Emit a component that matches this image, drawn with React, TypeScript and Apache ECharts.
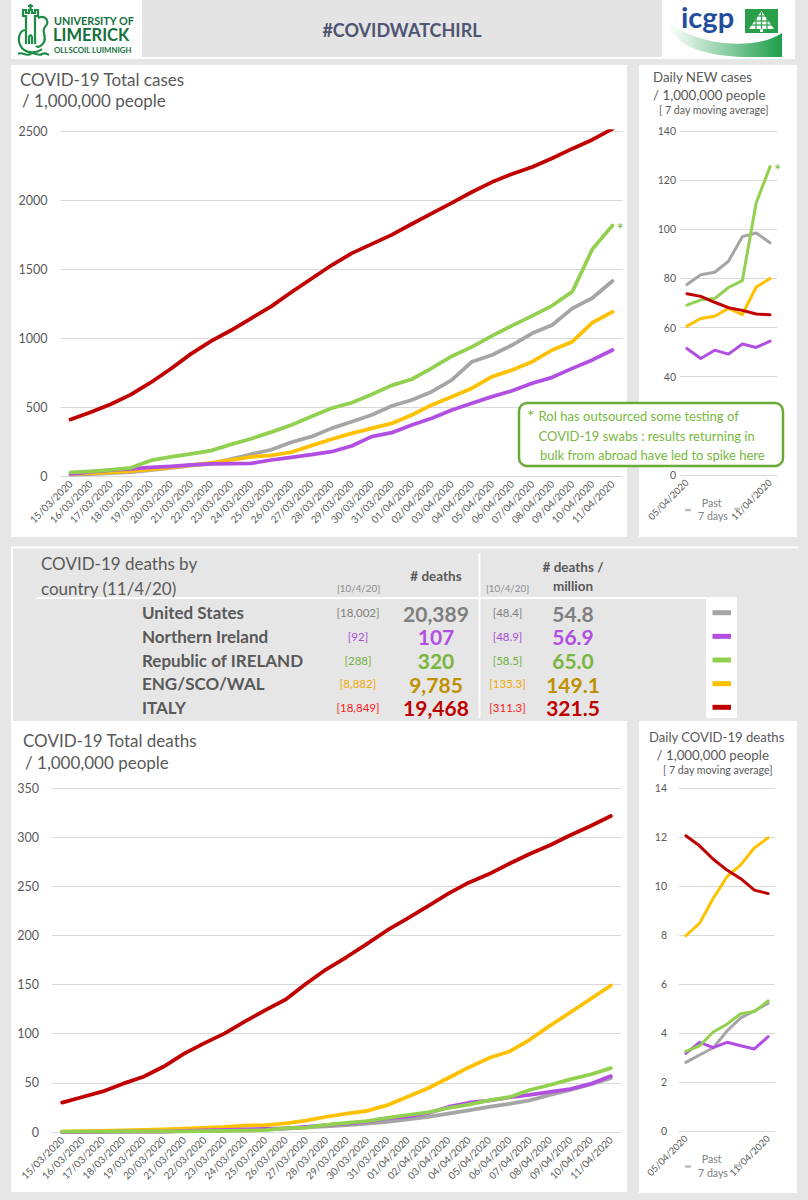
import React, { useEffect, useRef } from 'react';
import * as echarts from 'echarts';

// ---------- data ----------
const dates = [
  '15/03/2020', '16/03/2020', '17/03/2020', '18/03/2020', '19/03/2020', '20/03/2020', '21/03/2020',
  '22/03/2020', '23/03/2020', '24/03/2020', '25/03/2020', '26/03/2020', '27/03/2020', '28/03/2020',
  '29/03/2020', '30/03/2020', '31/03/2020', '01/04/2020', '02/04/2020', '03/04/2020', '04/04/2020',
  '05/04/2020', '06/04/2020', '07/04/2020', '08/04/2020', '09/04/2020', '10/04/2020', '11/04/2020',
];
const weekDates = ['05/04/2020', '06/04/2020', '07/04/2020', '08/04/2020', '09/04/2020', '10/04/2020', '11/04/2020'];

// total cases per 1,000,000 people
const casesUS = [10, 14, 20, 28, 42, 58, 75, 90, 122, 158, 190, 245, 285, 345, 393, 442, 507, 551, 611, 696, 828, 877, 949, 1034, 1094, 1215, 1290, 1413];
const casesGB = [15, 20, 27, 35, 48, 62, 78, 95, 116, 138, 150, 172, 220, 266, 309, 345, 381, 442, 515, 575, 636, 720, 768, 828, 913, 973, 1111, 1190];
const casesNI = [15, 30, 43, 52, 63, 70, 80, 87, 90, 92, 116, 135, 155, 176, 217, 285, 314, 370, 418, 478, 527, 575, 618, 672, 715, 780, 841, 913];
const casesROI = [26, 34, 45, 59, 113, 139, 160, 184, 229, 270, 318, 370, 431, 491, 531, 591, 657, 701, 782, 868, 936, 1015, 1090, 1160, 1235, 1336, 1644, 1815];
const casesIT = [409, 462, 520, 590, 678, 777, 885, 977, 1056, 1143, 1229, 1331, 1429, 1527, 1613, 1680, 1747, 1826, 1903, 1979, 2058, 2130, 2189, 2239, 2303, 2372, 2437, 2515];

// daily new cases per 1,000,000 (7 day moving average)
const dailyCasesUS = [77.5, 81.5, 82.5, 87, 97, 98.5, 94.5];
const dailyCasesGB = [60.6, 63.7, 64.6, 67.8, 65.3, 76.5, 80];
const dailyCasesNI = [51.5, 47.4, 50.8, 49.2, 53.3, 51.9, 54.5];
const dailyCasesROI = [69.1, 71.3, 71.8, 76.3, 79.1, 110.8, 125.5];
const dailyCasesIT = [73.8, 72.7, 70.3, 68.1, 67.0, 65.5, 65.2];

// total deaths per 1,000,000 people
const deathsUS = [0.2, 0.2, 0.3, 0.4, 0.6, 0.7, 0.9, 1.2, 1.5, 2.0, 2.6, 3.5, 4.6, 5.8, 6.9, 8.4, 10.2, 12.8, 15.4, 18.6, 22.0, 25.5, 28.6, 32.2, 37.6, 42.8, 48.4, 54.8];
const deathsGB = [0.5, 0.8, 1.1, 1.6, 2.2, 2.7, 3.5, 4.3, 5.1, 6.4, 7.1, 8.8, 11.6, 15.5, 18.7, 21.5, 27.3, 35.8, 44.5, 54.9, 65.7, 75.2, 81.9, 93.8, 108.1, 121.6, 135.3, 149.1];
const deathsNI = [0, 0, 0, 0.5, 0.5, 0.5, 1.1, 1.6, 2.1, 2.7, 3.2, 3.7, 5.3, 6.9, 8.5, 10.6, 13.8, 16.0, 19.1, 25.5, 29.8, 31.9, 35.1, 37.8, 40.9, 43.6, 48.9, 56.9];
const deathsROI = [0.4, 0.4, 0.4, 0.6, 0.6, 0.6, 0.6, 0.8, 1.2, 1.4, 1.8, 3.9, 4.5, 7.3, 9.3, 11.0, 14.4, 17.3, 19.9, 24.4, 27.8, 32.1, 35.4, 42.7, 47.8, 53.5, 58.5, 65.0];
const deathsIT = [29.9, 35.6, 41.3, 49.2, 56.2, 66.6, 79.7, 90.4, 100.4, 112.6, 123.9, 134.8, 150.8, 165.5, 178.0, 191.4, 205.3, 217.3, 229.8, 242.5, 253.7, 262.4, 272.9, 282.9, 291.8, 301.9, 311.3, 321.5];

// daily deaths per 1,000,000 (7 day moving average)
const dailyDeathsUS = [2.8, 3.1, 3.4, 4.08, 4.62, 4.9, 5.21];
const dailyDeathsGB = [7.97, 8.48, 9.5, 10.38, 10.86, 11.56, 11.97];
const dailyDeathsNI = [3.17, 3.62, 3.4, 3.62, 3.48, 3.35, 3.85];
const dailyDeathsROI = [3.25, 3.48, 4.04, 4.36, 4.79, 4.88, 5.31];
const dailyDeathsIT = [12.05, 11.64, 11.09, 10.65, 10.3, 9.83, 9.69];

// deaths table
const tableCountries = ['United States', 'Northern Ireland', 'Republic of IRELAND', 'ENG/SCO/WAL', 'ITALY'];
const deathsPrevDay = [18002, 92, 288, 8882, 18849];
const deathsToday = [20389, 107, 320, 9785, 19468];
const deathsPerMillion = [deathsUS, deathsNI, deathsROI, deathsGB, deathsIT];

const casesTicks = { max: 2500, interval: 500 };
const dailyCasesTicks = { max: 140, interval: 20, hidden: [20] }; // 20 sits under the note box
const deathsTicks = { max: 350, interval: 50 };
const dailyDeathsTicks = { max: 14, interval: 2 };

// ---------- styling ----------
const FONT = 'Lato, "Open Sans", sans-serif';
const TXT = '#595959';
const COL = { us: '#a5a5a5', gb: '#ffc000', ni: '#b24fe3', roi: '#92d050', it: '#c00000' };
const rowColors = [COL.us, COL.ni, COL.roi, COL.gb, COL.it];
const bracketColors = ['#7f7f7f', '#a64bd6', '#70b040', '#f0a800', '#ff1a1a'];
const bigColors = ['#7f7f7f', '#b14fe3', '#78b53d', '#bf9000', '#c00000'];
const NOTE_GREEN = '#78b83e';

const crestPath =
  'M26 44 L26 16 L23 16 L23 10 L26 10 L26 13 L29 13 L29 10 L32 10 L32 13 L35 13 L35 10 L38 10 L38 16 L35 16 L35 44 ' +
  'M29 44 L29 37 Q30.5 33 32 37 L32 44 ' +
  'M26 30 C18 30 17 42 22 48 C26 53 36 54 42 49 ' +
  'M38 18 C46 14 50 22 45 27 C41 31 47 36 44 42 C42 46 38 48 36 46 ' +
  'M30.5 9 L30.5 4 M28 6 L33 6 ' +
  'M18 54 C22 51 26 57 30 54 C34 51 38 57 42 54 C45 52 47 54 49 55';
const swooshPath = 'M668 22 C672 44 700 56 745 57 L782 57 L782 33 C768 43 742 46 716 42 C696 38 680 32 668 22 Z';

let shapesReady = false;
function registerShapes() {
  if (shapesReady) return;
  echarts.graphic.registerShape('ulCrest', echarts.graphic.extendPath(crestPath, {}) as any);
  echarts.graphic.registerShape('icgpSwoosh', echarts.graphic.extendPath(swooshPath, {}) as any);
  shapesReady = true;
}

function txt(text: string, x: number, y: number, size: number, color: string, o: any = {}) {
  return {
    type: 'text', x, y, z: o.z ?? 20,
    style: {
      text, fill: color, fontSize: size, lineHeight: size, fontFamily: o.family ?? FONT, fontWeight: o.weight ?? 'normal',
      textAlign: o.align ?? 'left', textVerticalAlign: 'middle', align: o.align ?? 'left', verticalAlign: 'middle',
    },
  };
}
function box(x: number, y: number, w: number, h: number, fill: string, z = -1) {
  return { type: 'rect', z, shape: { x, y, width: w, height: h }, style: { fill } };
}

function line(name: string, data: number[], color: string, axis: number, width: number, extra: any = {}) {
  return {
    type: 'line', name, data, xAxisIndex: axis, yAxisIndex: axis, symbol: 'none', silent: true,
    lineStyle: { color, width, cap: 'round', join: 'round' }, itemStyle: { color }, z: 3, ...extra,
  };
}
const star = { endLabel: { show: true, formatter: '*', color: NOTE_GREEN, fontSize: 17, fontFamily: FONT, distance: 4, offset: [0, 4] } };

function xAxis(gridIndex: number, data: string[], size: number, margin: number, interval: any) {
  return {
    type: 'category', gridIndex, data, boundaryGap: true,
    axisLine: { show: false }, axisTick: { show: false }, splitLine: { show: false },
    axisLabel: { rotate: 45, interval, color: TXT, fontSize: size, fontFamily: FONT, margin },
  };
}
function yAxis(gridIndex: number, t: { max: number; interval: number; hidden?: number[] }, size: number, margin: number) {
  const hidden = t.hidden ?? [];
  return {
    type: 'value', gridIndex, min: 0, max: t.max, interval: t.interval,
    axisLine: { show: false }, axisTick: { show: false },
    axisLabel: {
      color: TXT, fontSize: size, fontFamily: FONT, margin,
      formatter: (v: number) => (hidden.includes(v) ? '' : String(v)),
    },
    splitLine: { lineStyle: { color: '#d9d9d9', width: 1 } },
  };
}

function buildGraphics() {
  const els: any[] = [];
  // header
  els.push(box(11, 0, 784, 57, '#e4e4e4', -2));
  els.push(box(11, 57, 784, 2, '#ffffff', -2));
  els.push(box(11, 0, 131, 57, '#ffffff', -1));
  els.push(box(662, 0, 133, 57, '#ffffff', -1));
  els.push({ type: 'ulCrest', x: 0, y: 0, z: 5, style: { fill: 'none', stroke: '#1e8c45', lineWidth: 2.2 } });
  els.push(txt('UNIVERSITY OF', 54, 20.5, 10.8, '#12703a', { weight: 'bold' }));
  els.push(txt('LIMERICK', 53, 35, 16.5, '#12703a', { weight: 'bold' }));
  els.push(txt('OLLSCOIL LUIMNIGH', 54, 50, 7.8, '#12703a', { weight: 'bold' }));
  els.push(txt('#COVIDWATCHIRL', 402, 30, 18, '#4f5472', { weight: 'bold', align: 'center' }));
  els.push({
    type: 'icgpSwoosh', x: 0, y: 0, z: 4,
    style: {
      fill: new echarts.graphic.LinearGradient(0, 0, 1, 0, [
        { offset: 0, color: '#ffffff' },
        { offset: 1, color: '#1e9e4a' },
      ]),
    },
  });
  els.push(box(745, 9, 33, 24, '#2a9f4a', 4));
  els.push({ type: 'polygon', z: 5, shape: { points: [[761.5, 11], [749, 29], [774, 29]] }, style: { fill: '#ffffff' } });
  els.push(box(760, 29, 3, 3, '#ffffff', 5));
  [16, 21, 25].forEach((yy) => els.push({ type: 'line', z: 6, shape: { x1: 748, y1: yy, x2: 775, y2: yy }, style: { stroke: '#2a9f4a', lineWidth: 1.2 } }));
  [756, 761.5, 767].forEach((xx) => els.push({ type: 'line', z: 6, shape: { x1: xx, y1: 12, x2: xx, y2: 29 }, style: { stroke: '#2a9f4a', lineWidth: 1.2 } }));
  els.push(txt('icgp', 681, 16.5, 29, '#1f4e9a', { weight: 'bold', z: 6 }));

  // panels
  els.push(box(11, 65, 616, 472, '#ffffff'));
  els.push(box(639, 65, 158, 472, '#ffffff'));
  els.push(box(11, 721, 616, 471, '#ffffff'));
  els.push(box(639, 721, 158, 472, '#ffffff'));

  // panel titles
  els.push(txt('COVID-19 Total cases', 20, 79, 17, TXT));
  els.push(txt('/ 1,000,000 people', 22, 100, 17, TXT));
  els.push(txt('Daily NEW cases', 653, 77, 13.3, TXT));
  els.push(txt('/ 1,000,000 people', 653, 95, 13.3, TXT));
  els.push(txt('[ 7 day moving average]', 659, 109.5, 10.6, TXT));
  els.push(txt('COVID-19 Total deaths', 23, 740, 17, TXT));
  els.push(txt('/ 1,000,000 people', 25, 762, 17, TXT));
  els.push(txt('Daily COVID-19 deaths', 649, 737, 13.1, TXT));
  els.push(txt('/ 1,000,000 people', 656.5, 754.5, 13.3, TXT));
  els.push(txt('[ 7 day moving average]', 663, 769.5, 10.6, TXT));

  // "past 7 days" markers under the small charts
  const pastMarks = (py: number) => {
    els.push(txt('Past', 711.7, py, 10.6, '#808080', { align: 'center' }));
    els.push(txt('7 days', 713, py + 13.4, 10.6, '#808080', { align: 'center' }));
    els.push(box(685, py + 6, 6, 2.5, '#bfbfbf', 5));
    els.push(box(734, py + 5, 6, 2.5, '#bfbfbf', 5));
  };
  pastMarks(502.7);
  pastMarks(1159.3);

  // note box
  els.push({
    type: 'rect', z: 50,
    shape: { x: 519, y: 403, width: 264, height: 63, r: 8 },
    style: { fill: '#ffffff', stroke: '#6aaa38', lineWidth: 2.5 },
  });
  els.push(txt('*', 527, 416, 17, NOTE_GREEN, { z: 51 }));
  els.push(txt('RoI has outsourced some testing of', 538.5, 416, 13, NOTE_GREEN, { z: 51 }));
  els.push(txt('COVID-19 swabs : results returning in', 538.5, 436, 13, NOTE_GREEN, { z: 51 }));
  els.push(txt('bulk from abroad have led to spike here', 540, 455, 13, NOTE_GREEN, { z: 51 }));

  // deaths table
  els.push(box(11, 546.5, 787, 2, '#ffffff'));
  els.push(box(11, 546.5, 2, 175, '#ffffff'));
  els.push(box(37, 597, 700, 2, '#ffffff'));
  els.push(box(478.5, 553, 2, 165, '#ffffff'));
  els.push(box(706, 598, 31, 120, '#ffffff'));
  els.push(txt('COVID-19 deaths by', 41, 563.5, 17, TXT));
  els.push(txt('country (11/4/20)', 41, 588, 17, TXT));
  els.push(txt('[10/4/20]', 358.5, 587.5, 9.8, '#8c8c8c', { align: 'center' }));
  els.push(txt('# deaths', 436, 576, 13.5, TXT, { weight: 'bold', align: 'center' }));
  els.push(txt('[10/4/20]', 507.5, 587.5, 9.8, '#8c8c8c', { align: 'center' }));
  els.push(txt('# deaths /', 573, 566.5, 13.5, TXT, { weight: 'bold', align: 'center' }));
  els.push(txt('million', 573, 586, 13.5, TXT, { weight: 'bold', align: 'center' }));
  tableCountries.forEach((name, i) => {
    const y = 612.7 + i * 23.65;
    const pm = deathsPerMillion[i];
    els.push(txt(name, 142, y, 17, TXT, { weight: 'bold' }));
    els.push(txt(`[${deathsPrevDay[i].toLocaleString('en-US')}]`, 358, y, 11.5, bracketColors[i], { align: 'center' }));
    els.push(txt(deathsToday[i].toLocaleString('en-US'), 436, y + 0.5, 21, bigColors[i], { weight: 'bold', align: 'center' }));
    els.push(txt(`[${pm[pm.length - 2].toFixed(1)}]`, 507.5, y, 11.5, bracketColors[i], { align: 'center' }));
    els.push(txt(pm[pm.length - 1].toFixed(1), 573, y + 0.5, 21, bigColors[i], { weight: 'bold', align: 'center' }));
    els.push(box(712.5, y - 2.5, 18.5, 5, rowColors[i], 5));
  });
  return els;
}

function buildOption() {
  const edgeLabels = (i: number) => i === 0 || i === weekDates.length - 1;
  return {
    animation: false,
    backgroundColor: '#e6e6e6',
    textStyle: { fontFamily: FONT },
    grid: [
      { left: 60.5, top: 131, width: 562, height: 345 },
      { left: 680, top: 131, width: 97, height: 344 },
      { left: 52, top: 788, width: 569, height: 344 },
      { left: 679, top: 788, width: 96, height: 343 },
    ],
    xAxis: [
      xAxis(0, dates, 10, 6, 0),
      xAxis(1, weekDates, 9.5, 6, edgeLabels),
      xAxis(2, dates, 10, 6, 0),
      xAxis(3, weekDates, 9.5, 6, edgeLabels),
    ],
    yAxis: [
      yAxis(0, casesTicks, 12.5, 13),
      yAxis(1, dailyCasesTicks, 10.5, 4),
      yAxis(2, deathsTicks, 12.5, 13),
      yAxis(3, dailyDeathsTicks, 10.5, 12),
    ],
    series: [
      line('United States', casesUS, COL.us, 0, 3.75),
      line('ENG/SCO/WAL', casesGB, COL.gb, 0, 3.75),
      line('Northern Ireland', casesNI, COL.ni, 0, 3.75),
      line('Republic of IRELAND', casesROI, COL.roi, 0, 3.75, star),
      line('ITALY', casesIT, COL.it, 0, 3.75),

      line('United States', dailyCasesUS, COL.us, 1, 3),
      line('ENG/SCO/WAL', dailyCasesGB, COL.gb, 1, 3),
      line('Northern Ireland', dailyCasesNI, COL.ni, 1, 3),
      line('Republic of IRELAND', dailyCasesROI, COL.roi, 1, 3, star),
      line('ITALY', dailyCasesIT, COL.it, 1, 3),

      line('United States', deathsUS, COL.us, 2, 3.75),
      line('ENG/SCO/WAL', deathsGB, COL.gb, 2, 3.75),
      line('Northern Ireland', deathsNI, COL.ni, 2, 3.75),
      line('Republic of IRELAND', deathsROI, COL.roi, 2, 3.75),
      line('ITALY', deathsIT, COL.it, 2, 3.75),

      line('United States', dailyDeathsUS, COL.us, 3, 3),
      line('ENG/SCO/WAL', dailyDeathsGB, COL.gb, 3, 3),
      line('Northern Ireland', dailyDeathsNI, COL.ni, 3, 3),
      line('Republic of IRELAND', dailyDeathsROI, COL.roi, 3, 3),
      line('ITALY', dailyDeathsIT, COL.it, 3, 3),
    ],
    graphic: buildGraphics(),
  };
}

export default function App() {
  const ref = useRef<HTMLDivElement>(null);
  useEffect(() => {
    registerShapes();
    const chart = echarts.init(ref.current!, undefined, { renderer: 'svg' });
    chart.setOption(buildOption() as any);
    return () => chart.dispose();
  }, []);
  return <div ref={ref} style={{ position: 'absolute', left: 0, top: 0, width: 808, height: 1200 }} />;
}
